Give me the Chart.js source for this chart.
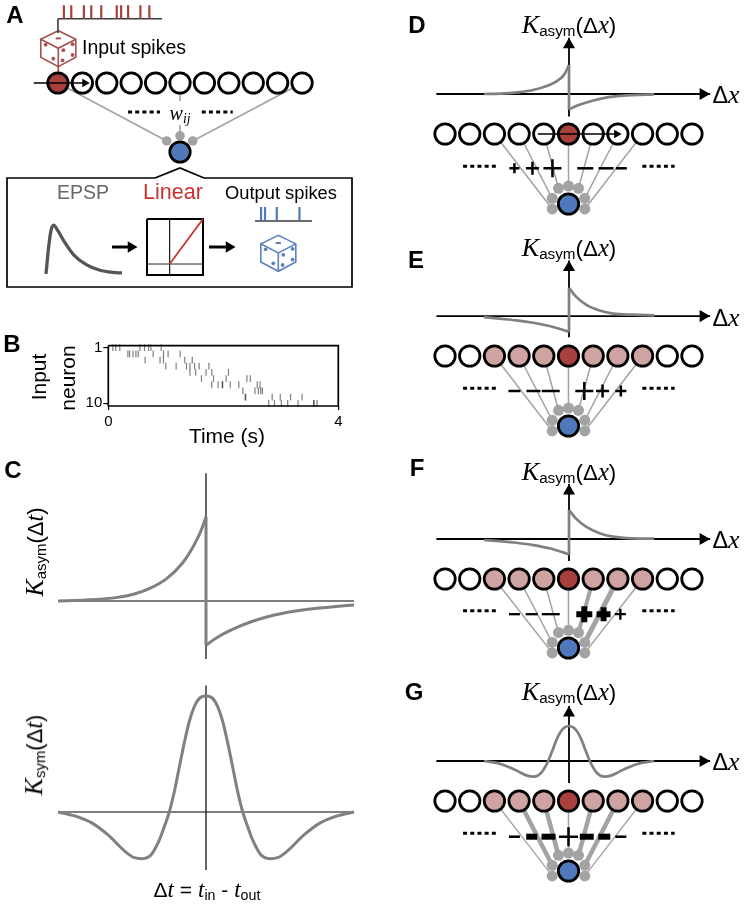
<!DOCTYPE html>
<html><head><meta charset="utf-8">
<script src="https://cdn.jsdelivr.net/npm/chart.js@4"></script>
<style>
html,body{margin:0;padding:0;background:#fff;width:744px;height:906px;overflow:hidden}
canvas{position:absolute}
.t{position:absolute;white-space:nowrap;transform:translate(-50%,-50%);font-family:"Liberation Sans",Arial,sans-serif;color:#000;line-height:1}
.t i{font-family:"Liberation Serif","Times New Roman",serif;font-style:italic}
.t sub{font-size:.68em;vertical-align:baseline;position:relative;top:.22em;line-height:0}
</style></head><body>
<script>
// ---------- data ----------
const neuronIndex=[1,2,3,4,5,6,7,8,9,10,11];
const stateA=[1,0,0,0,0,0,0,0,0,0,0];
const stateD=[0,0,0,0,0,1,0,0,0,0,0];
const statePink=[0,0,2,2,2,1,2,2,2,0,0];
const synNeurons=[3,4,5,6,7,8,9];
const synDx=[-.66,-.66,-.405,0,.405,.66,.66];
const synLayer=[-.071,.081,.224,.257,.224,.081,-.071];
const weightsPlain=[1.5,1.5,1.5,1.5,1.5,1.5,1.5];
const weightsF=[1.5,1.5,1.5,1.5,4,5,1.5];
const weightsG=[1.3,4.5,4.5,1.5,4.5,4.5,1.3];
const signXD=[3.81,4.54,5.35,6.68,7.52,8.14];
const signKindD=['cross','cross','cross','line','line','line'];
const signRD=[5,6.5,9,8,7.5,5.5];
const signWD=[2.5,2.5,2.5,2.5,2.5,2.5];
const signXE=[3.81,4.58,5.28,6.64,7.38,8.12];
const signKindE=['line','line','line','cross','cross','cross'];
const signRE=[6,7,9,9,6.5,5.5];
const signWE=[2.5,2.5,2.5,2.5,2.5,2.5];
const signXF=[3.81,4.51,5.28,6.64,7.42,8.1];
const signRF=[5.5,6,9,8,7,5.5];
const signWF=[2.3,2.3,2.3,6,6,2.3];
const signXG=[3.81,4.51,5.19,6,6.74,7.45,8.12];
const signKindG=['line','line','line','cross','line','line','line'];
const signRG=[5.5,5.5,7,9.5,7,6,5.5];
const signWG=[2.5,6,6,2.5,6,6,2.5];

const asymLeftDt=[-1,-.83,-.72,-.61,-.49,-.38,-.27,-.16,-.086,-.04,0];
const asymLeftK=[0,.01,.02,.04,.08,.15,.26,.45,.65,.81,1];
const asymRightDt=[0,.07,.19,.30,.41,.52,.64,.75,.86,1];
const asymRightK=[-.526,-.44,-.33,-.25,-.19,-.145,-.11,-.086,-.068,-.048];
const symDt=[-1,-.887,-.775,-.662,-.545,-.484,-.432,-.372,-.315,-.282,-.248,-.214,-.18,-.146,-.113,-.079,-.045,0,.045,.079,.113,.146,.18,.214,.248,.282,.315,.372,.432,.484,.545,.662,.775,.887,1];
const symK=[0,-.034,-.092,-.198,-.342,-.394,-.402,-.371,-.241,-.128,0,.175,.39,.6,.78,.908,.98,1,.98,.908,.78,.6,.39,.175,0,-.128,-.241,-.371,-.402,-.394,-.342,-.198,-.092,-.034,0];

const dLeftX=[-1,-.8,-.61,-.41,-.255,-.137,-.059,0];
const dLeftK=[0,.01,.057,.148,.284,.454,.659,1];
const dRightX=[0,.098,.255,.45,.686,1];
const dRightK=[-.534,-.40,-.25,-.114,-.045,-.01];
const eLeftX=[-1,-.82,-.62,-.42,-.23,-.07,0];
const eLeftK=[-.035,-.09,-.15,-.235,-.35,-.49,-.55];
const eRightX=[0,.08,.2,.36,.52,.75,1];
const eRightK=[1,.7,.41,.2,.09,.05,.03];
const fLeftK=[-.035,-.07,-.13,-.21,-.32,-.46,-.53];
const fRightK=[1,.71,.43,.2,.08,.02,.01];
const gX=[-1,-.85,-.69,-.58,-.5,-.42,-.37,-.32,-.28,-.245,-.2,-.148,-.1,-.05,0,.05,.1,.148,.2,.245,.28,.32,.37,.42,.5,.58,.69,.85,1];
const gK=[0,-.055,-.19,-.32,-.41,-.448,-.42,-.32,-.17,0,.27,.6,.83,.96,1,.96,.83,.6,.27,0,-.17,-.32,-.42,-.448,-.41,-.32,-.19,-.055,0];

const rasterTime=[.08,.13,.20,.34,.37,.43,.48,.52,.55,.63,.70,.74,.78,.64,.92,.96,1.04,.90,.96,1.0,1.18,1.25,1.33,1.36,1.42,1.42,1.46,1.50,1.58,1.52,1.62,1.70,1.75,1.80,1.80,1.83,1.91,1.98,1.99,2.05,2.09,2.12,2.27,2.34,2.38,2.41,2.47,2.39,2.55,2.59,2.61,2.64,2.65,2.68,2.79,2.85,2.89,2.99,3.01,3.12,3.17,3.30,3.37,3.57,3.63,3.58];
const rasterNeuron=[1,1,1,2,2,2,2,2,1,1,1,1,2,3,1,2,2,3,3,4,4,2,3,4,4,5,3,4,4,5,6,5,4,5,7,6,7,7,7,6,5,7,7,8,9,6,6,9,8,7,8,7,8,8,10,9,10,9,10,10,9,10,9,10,10,10];
const timeTicks=[0,4];
const neuronTicks=[1,10];

const inputSpikeTimes=[.057,.128,.249,.32,.416,.565,.607,.674,.792,.878];
const outputSpikeTimes=[.106,.176,.382,.78];
const epspT=[0,.035,.066,.1,.15,.24,.37,.53,.7,.88,1];
const epspV=[0,.55,.89,1,.9,.66,.38,.19,.08,.03,.02];

const dieX=[-17.5,0,17.5,17.5,0,-17.5,-17.5,0,17.5,0,0];
const dieY=[-9.4,-18,-9.4,8.6,18,8.6,-9.4,-.4,-9.4,-.4,18];
const piptX=[-12.7,-5,5,14.3,4.3,14.3];
const pipY=[-4,10,1.5,-4.5,11.7,6.3];

const RED='#a8403e',PINK='#d0a3a3',BLUE='#4f79ba',GRAYC='#808080',SYN='#a3a3a3';
Chart.defaults.font.family='"Liberation Sans",Arial,sans-serif';

// ---------- helpers ----------
const pts=(xs,ys)=>xs.map((x,i)=>({x,y:ys[i]}));
function mkCanvas(l,t,w,h){const c=document.createElement('canvas');c.width=w;c.height=h;c.style.cssText=`left:${l}px;top:${t}px;width:${w}px;height:${h}px`;document.body.appendChild(c);return c;}
function plot(box,xr,yr,datasets){
  const m=box.m??30,w=box.r-box.l,h=box.b-box.t,cw=Math.round(w+2*m),ch=Math.round(h+2*m);
  const c=mkCanvas(box.l-m,box.t-m,cw,ch);
  const ux=(xr[1]-xr[0])/w,uy=(yr[0]-yr[1])/h;
  const yTop=yr[0]+m*uy,yBot=yr[1]-m*uy;
  datasets.forEach(d=>{d.clip=false;if(d.showLine===undefined)d.showLine=true;if(d.pointRadius===undefined)d.pointRadius=0;});
  return new Chart(c,{type:'scatter',data:{datasets},options:{responsive:false,animation:false,devicePixelRatio:1,events:[],
    layout:{padding:0,autoPadding:false},plugins:{legend:{display:false},tooltip:{enabled:false}},
    scales:{x:{type:'linear',display:false,min:xr[0]-m*ux,max:xr[1]+m*ux},
            y:{type:'linear',display:false,min:Math.min(yTop,yBot),max:Math.max(yTop,yBot),reverse:yTop<yBot}}}});
}
function label(html,x,y,size,extra=''){const d=document.createElement('div');d.className='t';d.innerHTML=html;d.style.cssText=`left:${x}px;top:${y}px;font-size:${size}px;${extra}`;document.body.appendChild(d);return d;}
const line=(data,color,width,order=3,more={})=>({data,borderColor:color,borderWidth:width,order,...more});
const head=(x,y,rot,r=7)=>({data:[{x,y}],showLine:false,pointStyle:'triangle',pointRadius:r,pointRotation:rot,pointBackgroundColor:'#000',pointBorderColor:'#000',pointBorderWidth:0,order:0});

function network(o){
  const {cx,s,R,O}=o;
  const colors=o.state.map(v=>v===1?RED:v===2?PINK:'#fff');
  const ds=[];
  o.syn.forEach((n,i)=>{ds.push(line([{x:n,y:1},{x:6+o.dx[i],y:o.ly[i]}],SYN,o.w?o.w[i]:1.5,6));});
  ds.push({data:pts(o.dx.map(v=>6+v),o.ly),showLine:false,pointRadius:o.synR||5.5,pointBackgroundColor:SYN,pointBorderWidth:0,order:5});
  ds.push({data:pts(neuronIndex,neuronIndex.map(()=>1)),showLine:false,pointRadius:10.2,pointBackgroundColor:colors,pointBorderColor:'#000',pointBorderWidth:2.8,order:3});
  ds.push({data:[{x:6,y:0}],showLine:false,pointRadius:10.2,pointBackgroundColor:BLUE,pointBorderColor:'#000',pointBorderWidth:2.8,order:3});
  o.dots.forEach(seg=>ds.push(line([{x:seg[0],y:o.dotY},{x:seg[1],y:o.dotY}],'#000',3,2,{borderDash:[4,3.2]})));
  if(o.signX)ds.push({data:pts(o.signX,o.signX.map(()=>o.signY)),showLine:false,pointStyle:o.kind,pointRadius:o.signR,pointBorderWidth:o.signW,pointBorderColor:'#000',pointBackgroundColor:'#000',order:1});
  if(o.arrow){ds.push(line([{x:o.arrow[0],y:1},{x:o.arrow[1],y:1}],'#000',1.5,0));ds.push(head(o.arrow[1],1,90,5));}
  return plot({l:cx-5*s,r:cx+5*s,t:R,b:O,m:40},[1,11],[1,0],ds);
}
function kernel(o){
  const {cx,y0,hw,amp}=o;
  const a=o.axisW||1.8,cw=o.curveW||2.7;
  const ds=[line([{x:o.xa[0],y:0},{x:o.xa[1],y:0}],'#000',a,3),line([{x:0,y:o.ya[0]},{x:0,y:o.ya[1]}],'#000',a,3)];
  o.curves.forEach(c=>ds.push(line(c.p,GRAYC,cw,1,c.straight?{}:{cubicInterpolationMode:'monotone'})));
  if(o.arrows){ds.push(head(o.xa[1]-7/hw,0,90));ds.push(head(0,o.ya[1]-7/amp,0));}
  return plot({l:cx-hw,r:cx+hw,t:y0-amp,b:y0,m:o.m||70},[-1,1],[1,0],ds);
}
const asymCurves=(lx,lk,rx,rk)=>[{p:pts(lx,lk)},{p:pts(rx,rk)},{p:[{x:0,y:lk[lk.length-1]},{x:0,y:rk[0]}],straight:true}];

// ---------- page-level schematic (panel A box and arrows) ----------
function die(cx,cy,color){
  const ds=[line(pts(dieX.map(v=>v+cx),dieY.map(v=>v+cy)),color,1.6,2),
    {data:pts(piptX.map(v=>v+cx),pipY.map(v=>v+cy)),showLine:false,pointRadius:1.9,pointBackgroundColor:color,pointBorderWidth:0,order:1},
    {data:[{x:cx,y:cy-10.3}],showLine:false,pointStyle:'line',pointRadius:2.6,pointBorderColor:color,pointBorderWidth:2,order:1}];
  return ds;
}
const boxPath=pts([155,7,7,352,352,204,180,155],[178,178,287,287,178,178,168,178]);
plot({l:0,r:744,t:0,b:906,m:0},[0,744],[0,906],[
  line(boxPath,'#000',1.7,3),
  line([{x:112,y:247},{x:130,y:247}],'#000',3,3),head(131,247,90,6.5),
  line([{x:209,y:247},{x:228,y:247}],'#000',3,3),head(229,247,90,6.5),
  line([{x:58.3,y:66},{x:58.3,y:73}],RED,1.6,3),
  ...die(58.3,48.7,'#a5524f'),...die(278.3,253.3,'#5b82bd')
]);

// spike trains
function train(box,times,color){
  const ticks=[];times.forEach(t=>{ticks.push({x:t,y:0},{x:t,y:1},{x:NaN,y:NaN});});
  const ds=[line(ticks,color,2.2,1,{spanGaps:false}),line([{x:0,y:0},{x:1,y:0}],'#3a3a3a',1.6,2)];
  if(box.stem)ds.push(line([{x:0,y:0},{x:0,y:-box.stem}],'#3a3a3a',1.6,2));
  return plot(box,[0,1],[1,0],ds);
}
train({l:58.3,r:162.7,t:5,b:18.5,m:20,stem:1.05},inputSpikeTimes,RED);
train({l:255,r:311.7,t:207,b:221,m:6},outputSpikeTimes,BLUE);

// EPSP
plot({l:46,r:122,t:225,b:273.5,m:8},[0,1],[1,0],[line(pts(epspT,epspV),'#555',3.3,1,{cubicInterpolationMode:'monotone'})]);
// Linear transfer
plot({l:146.7,r:202.7,t:219,b:275,m:6},[-.677,1],[1,-.244],[
  line(pts([-.677,1,1,-.677,-.677],[1,1,-.244,-.244,1]),'#000',2,2),
  line([{x:0,y:1},{x:0,y:-.244}],'#222',1,3),
  line([{x:-.677,y:0},{x:1,y:0}],'#222',1,3),
  line([{x:0,y:0},{x:1,y:1}],'#c8322f',1.8,1)
]);

// Panel A network
network({cx:180,s:24.44,R:83,O:152,state:stateA,syn:[1,6,11],dx:[-.545,0,.52],ly:[.16,.235,.16],
  w:[1.6,1.6,1.6],synR:4.8,dots:[[3.87,5.18],[6.89,8.16]],dotY:.58,arrow:[.01,2.1]});

// Panels D-G networks
const dotSegs=[[1.73,3.11],[8.99,10.3]];
const base={s:24.67,syn:synNeurons,dx:synDx,ly:synLayer,dots:dotSegs,dotY:.54};
network({...base,cx:568.3,R:134,O:204,state:stateD,w:weightsPlain,signX:signXD,kind:signKindD,signR:signRD,signW:signWD,signY:.51,arrow:[4.76,7.95]});
network({...base,cx:568.3,R:356,O:426,state:statePink,w:weightsPlain,signX:signXE,kind:signKindE,signR:signRE,signW:signWE,signY:.5});
network({...base,cx:568.3,R:579,O:648,state:statePink,w:weightsF,signX:signXF,kind:signKindE,signR:signRF,signW:signWF,signY:.49});
network({...base,cx:568.3,R:801,O:871,state:statePink,w:weightsG,signX:signXG,kind:signKindG,signR:signRG,signW:signWG,signY:.49});

// Panel C
kernel({cx:206,y0:601,hw:148,amp:84,xa:[-1,1],ya:[-.69,1.52],axisW:1.2,curveW:3,m:60,
  curves:asymCurves(asymLeftDt,asymLeftK,asymRightDt,asymRightK)});
kernel({cx:206,y0:812,hw:148,amp:116,xa:[-1,1],ya:[-.5,1.09],axisW:1.2,curveW:3,m:60,
  curves:[{p:pts(symDt,symK)}]});

// Panels D-G kernels
const xSpan=[-1.56,1.66];
kernel({cx:568.5,y0:94.3,hw:85,amp:29,xa:xSpan,ya:[-.78,1.94],arrows:true,curves:asymCurves(dLeftX,dLeftK,dRightX,dRightK)});
kernel({cx:569,y0:316.7,hw:85,amp:28.3,xa:xSpan,ya:[-.75,1.97],arrows:true,curves:asymCurves(eLeftX,eLeftK,eRightX,eRightK)});
kernel({cx:569,y0:539,hw:85,amp:29,xa:xSpan,ya:[-.76,1.9],arrows:true,curves:asymCurves(eLeftX,fLeftK,eRightX,fRightK)});
kernel({cx:569,y0:761,hw:85,amp:35,xa:xSpan,ya:[-.63,1.57],arrows:true,curves:[{p:pts(gX,gK)}]});

// Panel B raster with real axes
(function(){
  const L=108.3,R=338.3,T=345.7,B=406,cl=70,ct=335,cw=290,ch=100;
  const c=mkCanvas(cl,ct,cw,ch);
  const yMin=.68,yMax=10.44;
  new Chart(c,{type:'scatter',data:{datasets:[
    {data:pts(rasterTime,rasterNeuron),pointStyle:'line',pointRotation:90,pointRadius:3.4,pointBorderWidth:1.2,pointBorderColor:'rgba(0,0,0,.5)',order:2,clip:false},
    {data:[{x:0,y:yMin},{x:4,y:yMin},{x:4,y:yMax},{x:0,y:yMax},{x:0,y:yMin}],showLine:true,borderColor:'#000',borderWidth:1.7,pointRadius:0,order:1,clip:false}
  ]},options:{responsive:false,animation:false,devicePixelRatio:1,events:[],
    layout:{padding:{left:0,top:T-ct,right:cl+cw-R,bottom:0},autoPadding:false},
    plugins:{legend:{display:false},tooltip:{enabled:false}},
    scales:{
      x:{type:'linear',min:0,max:4,afterBuildTicks:s=>{s.ticks=timeTicks.map(value=>({value}));},
        afterFit:s=>{s.height=ct+ch-B;},
        grid:{drawOnChartArea:false,color:'#000',lineWidth:1.2,tickLength:4},border:{display:false},
        ticks:{color:'#000',font:{size:15},padding:3,maxRotation:0,autoSkip:false}},
      y:{type:'linear',reverse:true,min:yMin,max:yMax,afterBuildTicks:s=>{s.ticks=neuronTicks.map(value=>({value}));},
        afterFit:s=>{s.width=L-cl;},
        grid:{drawOnChartArea:false,color:'#000',lineWidth:1.2,tickLength:5},border:{display:false},
        ticks:{color:'#000',font:{size:15},padding:1,autoSkip:false}}
    }}});
})();

// ---------- text ----------
const bold='font-weight:bold;';
[['A',15,15],['B',12,344],['C',13,470],['D',417,25],['E',416,260],['F',417,468],['G',414,692]].forEach(a=>label(a[0],a[1],a[2],24,bold));
label('Input spikes',134,48,19.5);
label('EPSP',83,193,19.5,'color:#666;');
label('Linear',173,193,21.5,'color:#c8322f;');
label('Output spikes',281,193,18.3);
label('<i>w</i><sub><i>ij</i></sub>',180,113,20,'background:#fff;padding:2px 3px;');
label('Time (s)',227,435,21);
label('Input',38,377,21,'transform:translate(-50%,-50%) rotate(-90deg);');
label('neuron',67,378,21,'transform:translate(-50%,-50%) rotate(-90deg);');
const kx='<i style="font-size:1.17em">K</i><sub>asym</sub>(Δ<i style="font-size:1.1em">x</i>)';
[[25],[248],[472],[692]].forEach(a=>label(kx,569,a[0],22.4));
[[95],[318],[540],[762]].forEach(a=>label('Δ<i style="font-size:1.1em">x</i>',726,a[0],23.5));
label('<i style="font-size:1.17em">K</i><sub>asym</sub>(Δ<i style="font-size:1.1em">t</i>)',35,552,22,'transform:translate(-50%,-50%) rotate(-90deg);');
label('<i style="font-size:1.17em">K</i><sub>sym</sub>(Δ<i style="font-size:1.1em">t</i>)',34,755,22,'transform:translate(-50%,-50%) rotate(-90deg);');
label('Δ<i style="font-size:1.1em">t</i> = <i style="font-size:1.1em">t</i><sub>in</sub> - <i style="font-size:1.1em">t</i><sub>out</sub>',207,890,21);
</script>
</body></html>
